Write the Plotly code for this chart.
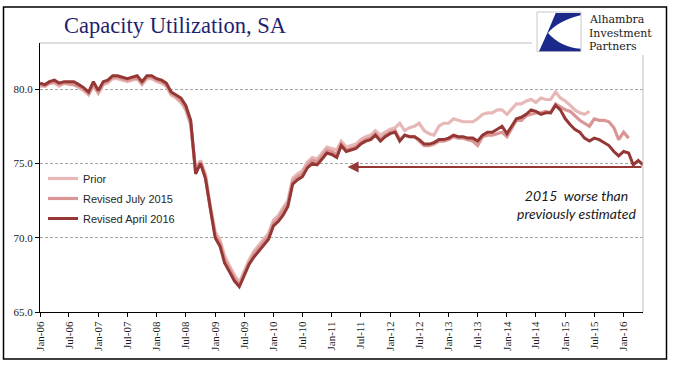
import pandas as pd
import plotly.graph_objects as go

# ---------------- data ----------------
months = pd.date_range("2006-01-01", periods=125, freq="MS")

revised_apr_2016 = [
    80.4, 80.3, 80.5, 80.6, 80.4, 80.5, 80.5, 80.5, 80.3, 80.1, 79.8, 80.5,
    79.9, 80.5, 80.6, 80.9, 80.9, 80.8, 80.7, 80.8, 80.9, 80.5, 80.9, 80.9,
    80.7, 80.6, 80.4, 79.8, 79.6, 79.4, 78.9, 77.9, 74.3, 75.0, 74.0, 71.9,
    70.0, 69.4, 68.3, 67.7, 67.1, 66.7, 67.5, 68.2, 68.7, 69.1, 69.5, 69.9,
    70.8, 71.1, 71.5, 72.1, 73.6, 73.9, 74.1, 74.7, 75.0, 74.9, 75.3, 75.7,
    75.6, 75.4, 76.2, 75.8, 75.9, 76.0, 76.3, 76.5, 76.6, 76.9, 76.5, 76.8,
    77.0, 77.1, 76.5, 76.9, 76.8, 76.8, 76.6, 76.3, 76.3, 76.4, 76.6, 76.6,
    76.7, 76.9, 76.8, 76.8, 76.7, 76.7, 76.5, 76.9, 77.1, 77.1, 77.3, 77.5,
    77.0, 77.5, 78.0, 78.1, 78.3, 78.6, 78.5, 78.3, 78.4, 78.4, 78.9, 78.6,
    78.0, 77.6, 77.3, 77.1, 76.7, 76.5, 76.7, 76.6, 76.4, 76.2, 75.8, 75.5,
    75.8, 75.7, 74.9, 75.2, 74.9]

revised_jul_2015 = [
    80.3, 80.2, 80.4, 80.5, 80.3, 80.4, 80.4, 80.3, 80.2, 80.0, 79.7, 80.3,
    79.8, 80.4, 80.5, 80.8, 80.8, 80.7, 80.6, 80.7, 80.8, 80.4, 80.8, 80.8,
    80.6, 80.5, 80.3, 79.7, 79.5, 79.2, 78.7, 77.7, 74.4, 75.1, 74.1, 72.0,
    70.2, 69.6, 68.5, 67.9, 67.3, 66.8, 67.6, 68.3, 68.9, 69.3, 69.7, 70.1,
    71.0, 71.3, 71.8, 72.3, 73.8, 74.1, 74.3, 74.9, 75.2, 75.1, 75.5, 75.9,
    75.8, 75.6, 76.3, 75.9, 76.0, 76.1, 76.4, 76.6, 76.7, 77.0, 76.6, 76.9,
    77.1, 77.2, 76.6, 76.9, 76.8, 76.8, 76.5, 76.2, 76.2, 76.3, 76.5, 76.5,
    76.6, 76.8, 76.7, 76.7, 76.6, 76.5, 76.2, 76.8, 76.9, 76.9, 77.0, 77.1,
    76.8, 77.4, 77.9, 77.9, 78.2, 78.3, 78.4, 78.4, 78.5, 78.4, 79.0, 78.8,
    78.6, 78.5, 78.2, 77.9, 77.7, 77.5, 78.0, 77.9, 77.9, 77.8, 77.4, 76.6,
    77.1, 76.7]

prior = [
    80.2, 80.2, 80.4, 80.4, 80.2, 80.4, 80.3, 80.3, 80.1, 79.9, 79.6, 80.2,
    79.7, 80.3, 80.4, 80.7, 80.7, 80.6, 80.5, 80.6, 80.7, 80.3, 80.7, 80.7,
    80.5, 80.4, 80.2, 79.6, 79.4, 79.1, 78.6, 77.6, 74.6, 75.2, 74.3, 72.2,
    70.4, 69.8, 68.8, 68.1, 67.5, 67.0, 67.8, 68.5, 69.1, 69.5, 69.9, 70.3,
    71.2, 71.5, 72.0, 72.5, 74.0, 74.3, 74.5, 75.1, 75.4, 75.3, 75.7, 76.1,
    76.0, 75.9, 76.5, 76.1, 76.2, 76.3, 76.6, 76.8, 76.9, 77.2, 76.9, 77.1,
    77.3, 77.4, 77.7, 77.2, 77.4, 77.5, 77.7, 77.2, 77.0, 76.9, 77.5, 77.7,
    77.7, 78.0, 77.9, 77.8, 77.8, 77.8, 78.0, 78.3, 78.4, 78.4, 78.6, 78.6,
    78.3, 78.7, 79.0, 79.0, 79.2, 79.3, 79.1, 79.4, 79.3, 79.3, 79.8, 79.4,
    79.2, 78.9, 78.6, 78.4, 78.3, 78.5]

series_names = ["Prior", "Revised July 2015", "Revised April 2016"]
y_ticks = [65, 70, 75, 80]

# ---------------- layout constants ----------------
W, H = 673, 375
ML, MR, MT, MB = 40, 30, 43, 63
PW, PH = W - ML - MR, H - MT - MB


def px(x):
    return (x - ML) / PW


def py(y):
    return (H - MB - y) / PH


fig = go.Figure()
colors = ["#E6B9B8", "#D99694", "#953735"]
widths = [3.2, 3.2, 3.0]
for name, vals, c, w in zip(series_names, [prior, revised_jul_2015, revised_apr_2016], colors, widths):
    fig.add_trace(go.Scatter(
        x=months[:len(vals)], y=vals, mode="lines", name=name,
        legendgroup=name,
        line=dict(color=c, width=w),
    ))

shapes = []
# plot area border (grey top / right)
shapes.append(dict(type="line", xref="paper", yref="paper", x0=0, x1=1, y0=1, y1=1,
                   line=dict(color="#BFBFBF", width=1)))
shapes.append(dict(type="line", xref="paper", yref="paper", x0=1, x1=1, y0=0, y1=1,
                   line=dict(color="#BFBFBF", width=1)))
# outer black frame
shapes.append(dict(type="rect", xref="paper", yref="paper",
                   x0=px(3.5), x1=px(666.5), y0=py(359), y1=py(7),
                   line=dict(color="black", width=1.5)))
# logo white background
shapes.append(dict(type="rect", xref="paper", yref="paper",
                   x0=px(532), x1=px(662), y0=py(55), y1=py(9),
                   line=dict(width=0), fillcolor="white", layer="above"))
# logo square
shapes.append(dict(type="rect", xref="paper", yref="paper",
                   x0=px(537), x1=px(581), y0=py(51.5), y1=py(12),
                   line=dict(color="#C8C8C8", width=1), fillcolor="white", layer="above"))
path = "M {:.5f},{:.5f} L {:.5f},{:.5f} L {:.5f},{:.5f} ".format(
    px(555.7), py(13), px(580.5), py(13), px(580.5), py(15.3))
path += "Q {:.5f},{:.5f} {:.5f},{:.5f} ".format(px(557.3), py(21.3), px(548), py(33))
path += "Q {:.5f},{:.5f} {:.5f},{:.5f} ".format(px(560.7), py(47.3), px(580.5), py(48.7))
path += "L {:.5f},{:.5f} L {:.5f},{:.5f} L {:.5f},{:.5f} Z".format(
    px(580.5), py(51.2), px(539), py(51.2), px(547.3), py(33))
shapes.append(dict(type="path", xref="paper", yref="paper", path=path,
                   fillcolor="#1B2A8A", line=dict(width=0), layer="above"))

annotations = []
# logo text
for txt, yy in [("Alhambra", 19.5), ("Investment", 33), ("Partners", 46.5)]:
    annotations.append(dict(text=txt, xref="paper", yref="paper", x=px(587), y=py(yy),
                            xanchor="left", yanchor="middle", showarrow=False,
                            font=dict(family="DejaVu Serif", size=11, color="#1a1a1a")))
# arrow
annotations.append(dict(text="", x=months[63] + pd.Timedelta(days=9), y=74.75,
                        ax=months[124], ay=74.75, xref="x", yref="y", axref="x", ayref="y",
                        showarrow=True, arrowhead=2, arrowsize=1.1, arrowwidth=2,
                        arrowcolor="#953735", standoff=0))
# commentary
annotations.append(dict(text="2015  worse than<br>previously estimated",
                        xref="paper", yref="paper", x=px(577), y=py(204),
                        xanchor="center", yanchor="middle", showarrow=False,
                        font=dict(family="Lato", size=14, color="#1a1a1a", style="italic")))

fig.update_layout(
    width=W, height=H, autosize=False,
    margin=dict(l=ML, r=MR, t=MT, b=MB, autoexpand=False),
    paper_bgcolor="white", plot_bgcolor="white",
    title=dict(text="Capacity Utilization, SA", x=175 / W, xanchor="center",
               xref="container", y=1 - 25 / H, yref="container", yanchor="middle",
               font=dict(family="Liberation Serif", size=22.5, color="#1F1F70")),
    showlegend=True,
    legend=dict(x=px(43), y=py(164), xanchor="left", yanchor="top",
                bgcolor="rgba(0,0,0,0)", traceorder="grouped", tracegroupgap=1,
                font=dict(family="Liberation Sans", size=11, color="#262626"),
                itemwidth=30),
    shapes=shapes, annotations=annotations,
    xaxis=dict(type="date", range=[months[0], months[124]], automargin=False,
               tick0="2006-01-01", dtick="M6", tickformat="%b-%y",
               tickangle=-90, ticks="outside", ticklen=4, tickcolor="black",
               showline=True, linecolor="black", linewidth=1.3,
               showgrid=False, zeroline=False,
               tickfont=dict(family="Liberation Serif", size=11, color="#1a1a1a")),
    yaxis=dict(range=[65, 83.1], tickvals=y_ticks, automargin=False,
               ticktext=["{:.1f}".format(v) for v in y_ticks],
               ticks="outside", ticklen=4, tickcolor="black",
               showline=True, linecolor="black", linewidth=1.3,
               showgrid=True, gridcolor="#A6A6A6", griddash="3px,2px", gridwidth=1,
               zeroline=False,
               tickfont=dict(family="Liberation Serif", size=11, color="#1a1a1a")),
)

fig.write_html("out.html", config={"displayModeBar": False},
               post_script="document.body.style.margin='0';document.body.style.overflow='hidden';")
